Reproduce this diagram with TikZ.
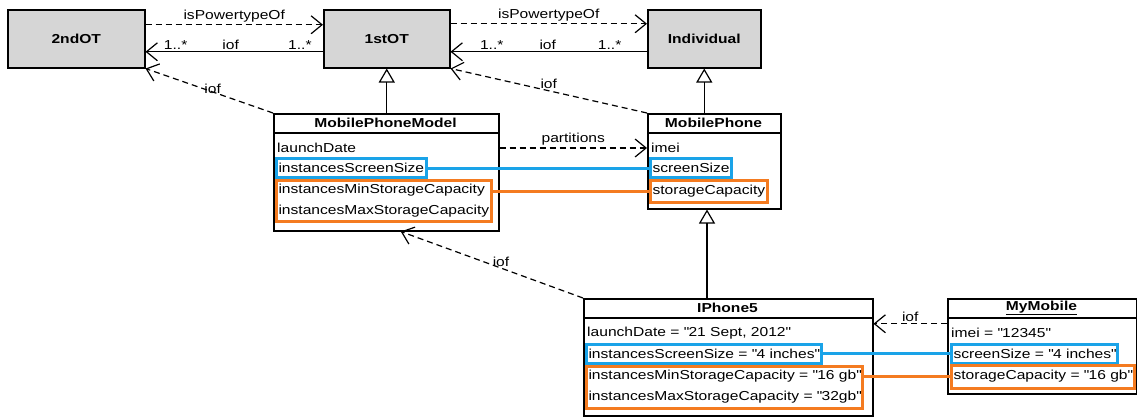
\documentclass[tikz,border=0pt]{standalone}
\usepackage{fontspec}
\setmainfont{Liberation Sans}[FakeStretch=1.2]
\usetikzlibrary{arrows.meta}
\newcommand{\gq}{\textquotedbl}

\begin{document}
\begin{tikzpicture}[x=1pt,y=-1pt,
  every node/.style={font=\fontsize{13}{21}\selectfont},
  classe/.style={draw=black,line width=1.5pt,fill=white,inner sep=0pt,anchor=north west},
  type_ot/.style={classe,fill=my_gray,minimum height=58,font=\fontsize{13}{21}\selectfont\bfseries},
  titre/.style={font=\fontsize{13}{21}\selectfont\bfseries,inner sep=0pt},
  attr/.style={anchor=west,inner sep=0pt},
  cadre_bleu/.style={draw=my_blue,line width=3pt,anchor=west,inner xsep=2pt,inner ysep=0pt,minimum height=19},
  cadre_orange/.style={draw=my_orange,line width=3pt,anchor=west,inner xsep=2pt,inner ysep=0pt,align=left},
  trait_bleu/.style={draw=my_blue,line width=3pt},
  trait_orange/.style={draw=my_orange,line width=3pt},
  lien/.style={line width=1.2pt},
  pointille/.style={lien,dash pattern=on 6pt off 4pt},
  fleche/.style={-{Straight Barb[length=11pt,width=18pt,line width=1.2pt]}},
  heritage/.style={-{Triangle[open,length=14pt,width=16pt,line width=1.2pt]}},
  etiquette/.style={inner sep=2pt}
]
\definecolor{my_gray}{HTML}{D6D6D6}
\definecolor{my_blue}{HTML}{1AA3E8}
\definecolor{my_orange}{HTML}{F47B20}
\useasboundingbox (0,0) rectangle (1137,416);

\node[type_ot,minimum width=137] (second_ot) at (7,9) {2ndOT};%boite 2ndOT
\node[type_ot,minimum width=126] (first_ot) at (323,9) {1stOT};%boite 1stOT
\node[type_ot,minimum width=113] (individual) at (647,9) {Individual};%boite Individual

\node[classe,minimum width=225,minimum height=117] (mpm) at (273,113) {};%classe MobilePhoneModel
\draw[line width=1.5pt] (mpm.north west) ++(0,20) -- ++(225,0);%ligne du titre
\node[titre] (mpm_titre) at (385.5,123) {MobilePhoneModel};
\node[attr] (mpm_launch) at (277,148) {launchDate};
\node[cadre_bleu] (mpm_screen) at (275,168) {instancesScreenSize};
\node[cadre_orange,minimum height=41] (mpm_storage) at (275,200.5) {instancesMinStorageCapacity\\instancesMaxStorageCapacity};

\node[classe,minimum width=133,minimum height=95] (mp) at (647,113) {};%classe MobilePhone
\draw[line width=1.5pt] (mp.north west) ++(0,20) -- ++(133,0);%ligne du titre
\node[titre] (mp_titre) at (713.5,123) {MobilePhone};
\node[attr] (mp_imei) at (651,148) {imei};
\node[cadre_bleu] (mp_screen) at (649,168) {screenSize};
\node[cadre_orange,minimum height=22] (mp_storage) at (649,191) {storageCapacity};

\node[classe,minimum width=289,minimum height=117] (ip) at (583,298) {};%objet IPhone5
\draw[line width=1.5pt] (ip.north west) ++(0,20) -- ++(289,0);%ligne du titre
\node[titre] (ip_titre) at (727.5,308) {IPhone5};
\node[attr] (ip_launch) at (587,333) {launchDate = \gq21 Sept, 2012\gq};
\node[cadre_bleu] (ip_screen) at (585,353.5) {instancesScreenSize = \gq4 inches\gq};
\node[cadre_orange,minimum height=42] (ip_storage) at (585,387) {instancesMinStorageCapacity = \gq16 gb\gq\\instancesMaxStorageCapacity = \gq32gb\gq};

\node[classe,minimum width=189,minimum height=95] (mm) at (947,298) {};%objet MyMobile
\draw[line width=1.5pt] (mm.north west) ++(0,20) -- ++(189,0);%ligne du titre
\node[titre] (mm_titre) at (1041.5,308) {\underline{MyMobile}};
\node[attr] (mm_imei) at (951,333) {imei = \gq12345\gq};
\node[cadre_bleu] (mm_screen) at (950,353.5) {screenSize = \gq4 inches\gq};
\node[cadre_orange,minimum height=23] (mm_storage) at (950,376.5) {storageCapacity = \gq16 gb\gq};

\draw[pointille,fleche] ([yshift=14pt]second_ot.east) -- ([yshift=14pt]first_ot.west) node[midway,above,etiquette] {isPowertypeOf};
\draw[lien,fleche] ([yshift=-13pt]first_ot.west) -- ([yshift=-13pt]second_ot.east)
  node[pos=0.13,above,etiquette] {1..*} node[pos=0.52,above,etiquette] {iof} node[pos=0.83,above,etiquette] {1..*};
\draw[pointille,fleche] ([yshift=15pt]first_ot.east) -- ([yshift=15pt]individual.west) node[midway,above,etiquette] {isPowertypeOf};
\draw[lien,fleche] ([yshift=-13pt]individual.west) -- ([yshift=-13pt]first_ot.east)
  node[pos=0.19,above,etiquette] {1..*} node[pos=0.505,above,etiquette] {iof} node[pos=0.79,above,etiquette] {1..*};

\draw[pointille,fleche] (mp.north west) -- (first_ot.south east) node[pos=0.5,above,etiquette] {iof};
\draw[pointille,fleche] (mpm.north west) -- (second_ot.south east) node[pos=0.55,anchor=west,inner sep=1pt] {iof};
\draw[pointille,fleche] (ip.north west) -- ([xshift=14.5pt]mpm.south) node[pos=0.45,above,inner sep=1pt] {iof};
\draw[pointille,fleche] (mpm.east |- mp_imei) -- (mp.west |- mp_imei) node[midway,above,etiquette] {partitions};
\coordinate (mm_iof) at ([yshift=22.5pt]mm.west);
\draw[pointille,fleche] (mm_iof) -- (mm_iof -| ip.east) node[midway,above,etiquette] {iof};

\draw[lien,heritage] (mpm.north -| first_ot.south) -- (first_ot.south);%generalisation
\draw[lien,heritage] (mp.north -| individual.south) -- (individual.south);%generalisation
\coordinate (ip_haut) at (707,298);
\draw[lien,heritage] (ip_haut) -- (ip_haut |- mp.south);%generalisation

\draw[trait_bleu] (mpm_screen.east) -- (mp_screen.west);
\draw[trait_orange] (mpm_storage.east |- mp_storage.west) -- (mp_storage.west);
\draw[trait_bleu] (ip_screen.east) -- (mm_screen.west);
\draw[trait_orange] (ip_storage.east |- mm_storage.west) -- (mm_storage.west);

\end{tikzpicture}
\end{document}
